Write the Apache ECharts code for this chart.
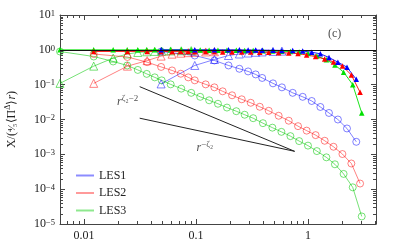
<!DOCTYPE html>
<html><head><meta charset="utf-8">
<script src="https://cdn.jsdelivr.net/npm/echarts@6/dist/echarts.min.js"></script>
<style>html,body{margin:0;padding:0;background:#fff}#c{width:398px;height:249px}</style>
</head><body><div id="c"></div>
<script>
// ---- data ----
const rLES3 = [0.0061,0.0122,0.0182,0.0243,0.0302,0.0363,0.0428,0.0494,0.0594,0.0738,0.0906,0.109,0.131,0.157,0.189,0.229,0.272,0.324,0.396,0.481,0.579,0.697,0.834,1.0,1.20,1.46,1.74,2.08,2.51,3.02];
const rLES2 = [0.0122,0.0244,0.0366,0.0488,0.0611,0.0731,0.0853,0.0975,0.122,0.146,0.173,0.210,0.256,0.308,0.371,0.446,0.547,0.673,0.815,0.973,1.17,1.41,1.69,2.03,2.44,2.92];
const rLES1 = [0.0488,0.0975,0.146,0.195,0.244,0.292,0.341,0.390,0.487,0.585,0.730,0.897,1.08,1.29,1.54,1.85,2.23,2.70];

// open circles (decreasing)
const circLES3 = [0.894,0.644,0.463,0.356,0.265,0.204,0.162,0.133,0.102,0.0769,0.0583,0.0448,0.0356,0.0283,0.0220,0.0173,0.0137,0.0109,0.00784,0.00583,0.00442,0.00333,0.00240,0.00178,0.00124,0.00082,0.000518,0.000274,0.000113,0.0000165];
const circLES2 = [0.759,0.623,0.442,0.323,0.256,0.206,0.162,0.133,0.102,0.0837,0.0644,0.0495,0.038,0.0302,0.0232,0.0178,0.0128,0.00924,0.00644,0.00479,0.00356,0.00245,0.00165,0.00102,0.000546,0.000145];
const circLES1 = [0.894,0.687,0.495,0.356,0.286,0.240,0.197,0.156,0.109,0.0837,0.0583,0.0448,0.034,0.0229,0.0154,0.0100,0.00553,0.00229];

// open triangles (increasing, early points)
const otriLES3 = [0.109,0.34,0.58,0.76,0.84,0.88,0.90,0.92,0.93,0.94,0.95];
const otriLES2 = [0.109,0.34,0.49,0.66,0.75,0.80,0.83,0.85,0.87,0.88];
const otriLES1 = [0.105,0.356,0.528,0.687,0.76,0.81,0.85,0.87,0.90,0.92];

// filled triangles (near one, falling at large r)
const ftriLES3 = [1.0,1.0,1.0,1.0,1.0,1.0,1.0,1.0,1.0,1.0,0.99,0.99,0.98,0.98,0.97,0.97,0.96,0.95,0.94,0.92,0.91,0.89,0.865,0.784,0.665,0.518,0.368,0.229,0.10,0.0154];
const ftriLES2 = [0.90,0.90,0.90,0.90,0.89,0.89,0.89,0.88,0.88,0.88,0.87,0.87,0.86,0.86,0.85,0.85,0.83,0.81,0.78,0.71,0.64,0.546,0.448,0.344,0.19,0.0604];
const ftriLES1 = [1.0,1.0,1.0,1.0,1.0,0.99,0.99,0.98,0.97,0.96,0.95,0.924,0.853,0.769,0.603,0.442,0.318,0.142];

// reference power-law guides
const guideSteep = [[0.0314,0.0877],[0.76,0.00122]];
const guideShallow = [[0.0314,0.0109],[0.76,0.00122]];

const legendNames = ['LES1','LES2','LES3'];
const xMinor = [0.007,0.008,0.009,0.02,0.03,0.04,0.05,0.06,0.07,0.08,0.09,0.2,0.3,0.4,0.5,0.6,0.7,0.8,0.9,2,3,4];
const yMinor = [];
[1e-5,1e-4,1e-3,1e-2,1e-1,1].forEach(d=>{for(let k=2;k<=9;k++) yMinor.push(+(d*k).toPrecision(2));});

const XMIN=0.0061, XMAX=4.05, YMIN=1e-5, YMAX=10;
const FONT='Liberation Serif';
const cols = {LES1:'#0000ff', LES2:'#ff0000', LES3:'#00e000'};
const fade = {LES1:'rgba(0,0,255,0.55)', LES2:'rgba(255,0,0,0.55)', LES3:'rgba(0,200,0,0.6)'};
const pale = {LES1:'#8c8cff', LES2:'#ff9a9a', LES3:'#8ee88e'};

function zip(r, v){ return v.map((y,i)=>[r[i], y]); }

const series = [];
// legend-only entries
legendNames.forEach(nm=>{
  series.push({name:nm, type:'line', data:[], symbol:'none', lineStyle:{color:pale[nm], width:1.2}, itemStyle:{color:pale[nm]}});
});
const sets = [
  ['LES3', rLES3, circLES3, otriLES3, ftriLES3],
  ['LES2', rLES2, circLES2, otriLES2, ftriLES2],
  ['LES1', rLES1, circLES1, otriLES1, ftriLES1]
];
sets.forEach(([nm, r, circ, otri, ftri])=>{
  series.push({name:nm+' c', type:'line', data:zip(r,circ), symbol:'circle', symbolSize:7,
    lineStyle:{color:fade[nm], width:0.9}, itemStyle:{color:'rgba(0,0,0,0)', borderColor:fade[nm], borderWidth:0.9}, z:2, silent:true});
  series.push({name:nm+' o', type:'line', data:zip(r,otri), symbol:'triangle', symbolSize:8,
    lineStyle:{color:fade[nm], width:0.9}, itemStyle:{color:'rgba(0,0,0,0)', borderColor:fade[nm], borderWidth:0.9}, z:2, silent:true});
});
sets.forEach(([nm, r, circ, otri, ftri])=>{
  series.push({name:nm+' f', type:'line', data:zip(r,ftri), symbol:'triangle', symbolSize:5.5,
    lineStyle:{color:cols[nm], width:0.9}, itemStyle:{color:cols[nm]}, z:4, silent:true});
});
series.push({name:'g1', type:'line', data:guideSteep, symbol:'none', lineStyle:{color:'#222', width:1}, z:3, silent:true});
series.push({name:'g2', type:'line', data:guideShallow, symbol:'none', lineStyle:{color:'#222', width:1}, z:3, silent:true,
  markLine:{silent:true, symbol:'none', label:{show:false}, lineStyle:{color:'#111', width:1, type:'solid'}, data:[{yAxis:1}]}});
// text annotations
series.push({name:'ann', type:'scatter', symbolSize:0, silent:true, z:5,
  data:[
    {value:[0.0245,0.0312], label:{formatter:'{i|r}{s|ζ₂−2}'}},
    {value:[0.1197,0.00151], label:{formatter:'{i|r}{s|−ζ₂}'}},
    {value:[1.73,2.92], label:{formatter:'{n|(c)}'}}
  ],
  label:{show:true, position:'inside', color:'#222', fontFamily:FONT,
    rich:{i:{fontFamily:FONT,fontStyle:'italic',fontSize:12,lineHeight:16,color:'#222'},
          s:{fontFamily:FONT,fontSize:9,lineHeight:9,verticalAlign:'top',color:'#222'},
          n:{fontFamily:FONT,fontSize:12,color:'#222'}}}
});
// minor ticks
series.push({name:'minor', type:'custom', silent:true, z:6, clip:false,
  data: xMinor.map(v=>[v,1,0]).concat(yMinor.map(v=>[1,v,1])),
  renderItem:function(params, api){
    const t = api.value(2);
    const st = {stroke:'#444', lineWidth:1};
    if(t===0){
      const v = api.value(0);
      const b = api.coord([v,YMIN]), tp = api.coord([v,YMAX]);
      const x = Math.round(b[0])+0.5;
      return {type:'group', children:[
        {type:'line', shape:{x1:x,y1:b[1],x2:x,y2:b[1]-3}, style:st},
        {type:'line', shape:{x1:x,y1:tp[1],x2:x,y2:tp[1]+3}, style:st}]};
    } else {
      const v = api.value(1);
      const l = api.coord([XMIN,v]), r = api.coord([XMAX,v]);
      const y = Math.round(l[1])+0.5;
      return {type:'group', children:[
        {type:'line', shape:{x1:l[0],y1:y,x2:l[0]+3,y2:y}, style:st},
        {type:'line', shape:{x1:r[0],y1:y,x2:r[0]-3,y2:y}, style:st}]};
    }
  }
});

const axisLineStyle = {lineStyle:{color:'#444', width:1}};
const chart = echarts.init(document.getElementById('c'), null, {renderer:'canvas'});
chart.setOption({
  animation:false,
  backgroundColor:'#fff',
  grid:{left:60, right:22, top:15, bottom:25, containLabel:false, outerBoundsMode:'none'},
  legend:{
    data:legendNames, orient:'vertical', left:75, top:169.5, padding:0,
    itemWidth:18, itemHeight:12, itemGap:5.5,
    itemStyle:{opacity:0},
    textStyle:{fontFamily:FONT, fontSize:12, color:'#222', lineHeight:12},
    selectedMode:false
  },
  xAxis:[
    {type:'log', logBase:10, min:XMIN, max:XMAX, position:'bottom',
     axisLine:{show:true, ...axisLineStyle}, axisTick:{inside:true, length:5, lineStyle:{color:'#444'}},
     splitLine:{show:false},
     axisLabel:{showMinLabel:false, showMaxLabel:false, margin:6, fontFamily:FONT, fontSize:12, color:'#222',
       formatter:v=>String(+(+v).toPrecision(3))},
     name:'r', nameLocation:'middle', nameGap:12,
     nameTextStyle:{fontFamily:FONT, fontStyle:'italic', fontSize:12, color:'#222', padding:[0,0,0,12]}},
    {type:'log', logBase:10, min:XMIN, max:XMAX, position:'top',
     axisLine:{show:true, ...axisLineStyle}, axisTick:{inside:true, length:5, lineStyle:{color:'#444'}},
     axisLabel:{show:false}, splitLine:{show:false}}
  ],
  yAxis:[
    {type:'log', logBase:10, min:YMIN, max:YMAX, splitNumber:6, position:'left',
     axisLine:{show:true, ...axisLineStyle}, axisTick:{inside:true, length:5, lineStyle:{color:'#444'}},
     splitLine:{show:false},
     axisLabel:{margin:5, fontFamily:FONT, fontSize:12, color:'#222',
       formatter:v=>'10{s|'+String(Math.round(Math.log10(v))).replace('-','−')+'}',
       rich:{s:{fontFamily:FONT, fontSize:8.5, lineHeight:9, verticalAlign:'top', color:'#222'}}},
     name:'{n|X/(}{f|⁴⁄₅}{n|⟨Π}{s|Δ}{n|⟩}{i|r}{n|)}', nameLocation:'middle', nameGap:40, nameRotate:90,
     nameTextStyle:{fontFamily:FONT, fontSize:12, color:'#222',
       rich:{n:{fontFamily:FONT,fontSize:12,color:'#222',lineHeight:16},
             i:{fontFamily:FONT,fontStyle:'italic',fontSize:12,color:'#222',lineHeight:16},
             f:{fontFamily:FONT,fontSize:10,color:'#222',lineHeight:16},
             s:{fontFamily:FONT,fontSize:8,color:'#222',lineHeight:9,verticalAlign:'top'}}}},
    {type:'log', logBase:10, min:YMIN, max:YMAX, splitNumber:6, position:'right',
     axisLine:{show:true, ...axisLineStyle}, axisTick:{inside:true, length:5, lineStyle:{color:'#444'}},
     axisLabel:{show:false}, splitLine:{show:false}}
  ],
  series: series
});
</script>
</body></html>
